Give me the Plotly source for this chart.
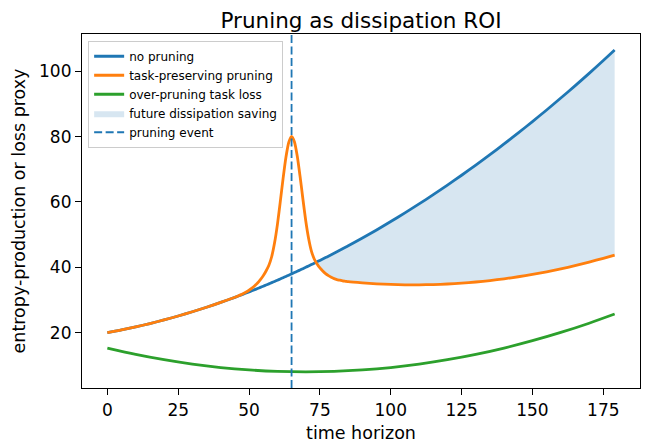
import plotly.graph_objects as go

# ---- data ----
t_main = [0, 5, 10, 15, 20, 25, 30, 35, 40, 45,
          46, 47, 48, 49, 50, 51, 52, 53, 54, 55, 56, 57, 58, 59, 60,
          61, 62, 63, 64, 65, 66, 67, 68, 69, 70, 71, 72, 73, 74, 75,
          76, 77, 78, 79, 80, 81, 82, 83, 84, 85,
          90, 95, 100, 105, 110, 115, 120, 125, 130, 135, 140, 145,
          150, 155, 160, 165, 170, 175, 179]

no_pruning = [20.00, 20.84, 21.77, 22.79, 23.90, 25.11, 26.40, 27.78, 29.26, 30.82,
              31.14, 31.47, 31.80, 32.14, 32.48, 32.82, 33.16, 33.51, 33.86, 34.22,
              34.58, 34.94, 35.31, 35.68, 36.06, 36.43, 36.82, 37.20, 37.59, 37.98,
              38.38, 38.78, 39.18, 39.59, 40.00, 40.41, 40.83, 41.25, 41.68, 42.11,
              42.54, 42.97, 43.41, 43.86, 44.30, 44.75, 45.21, 45.67, 46.13, 46.59,
              48.97, 51.44, 54.00, 56.65, 59.39, 62.22, 65.14, 68.16, 71.26, 74.45,
              77.74, 81.11, 84.58, 88.13, 91.78, 95.51, 99.34, 103.26, 106.45]

task_preserving = [20.00, 20.84, 21.77, 22.79, 23.90, 25.11, 26.40, 27.78, 29.26, 30.82,
                   31.19, 31.57, 32.00, 32.44, 32.98, 33.62, 34.36, 35.21, 36.26, 37.42,
                   38.88, 40.64, 43.31, 47.48, 53.06, 59.93, 67.12, 73.60, 78.19, 80.08,
                   78.43, 74.08, 67.83, 60.89, 54.25, 48.91, 44.98, 42.55, 41.03, 39.81,
                   38.89, 38.07, 37.46, 36.96, 36.55, 36.25, 36.06, 35.87, 35.73, 35.59,
                   35.22, 34.94, 34.75, 34.65, 34.64, 34.72, 34.89, 35.16, 35.51, 35.95,
                   36.49, 37.11, 37.83, 38.63, 39.53, 40.51, 41.59, 42.76, 43.75]

t_green = [0, 10, 20, 30, 40, 50, 60, 70, 80, 90, 100, 110, 120, 130, 140, 150, 160, 170, 179]
over_pruning = [15.30, 13.36, 11.73, 10.38, 9.34, 8.60, 8.15, 8.00, 8.15, 8.60, 9.34,
                10.38, 11.73, 13.36, 15.30, 17.54, 20.07, 22.90, 25.70]

pruning_time = 65
x_ticks = [0, 25, 50, 75, 100, 125, 150, 175]
y_ticks = [20, 40, 60, 80, 100]

BLUE = "#1f77b4"
ORANGE = "#ff7f0e"
GREEN = "#2ca02c"
FONT = "DejaVu Sans"

# ---- saving region: after the pruning event where orange < blue ----
i0 = next(i for i, t in enumerate(t_main)
          if t > pruning_time and task_preserving[i] < no_pruning[i])
d_prev = task_preserving[i0 - 1] - no_pruning[i0 - 1]
d_cur = task_preserving[i0] - no_pruning[i0]
f = d_prev / (d_prev - d_cur)
t_c = t_main[i0 - 1] + f * (t_main[i0] - t_main[i0 - 1])
v_c = no_pruning[i0 - 1] + f * (no_pruning[i0] - no_pruning[i0 - 1])
fill_t = [t_c] + t_main[i0:]
fill_top = [v_c] + no_pruning[i0:]
fill_bot = [v_c] + task_preserving[i0:]

fig = go.Figure()

fig.add_trace(go.Scatter(x=fill_t, y=fill_top, mode="lines",
                         line=dict(width=0, shape="spline", smoothing=0.6),
                         showlegend=False, hoverinfo="skip"))
fig.add_trace(go.Scatter(x=fill_t, y=fill_bot, mode="lines",
                         line=dict(width=0, shape="spline", smoothing=0.6),
                         fill="tonexty", fillcolor="rgba(31,119,180,0.18)",
                         name="future dissipation saving", legendrank=4))

fig.add_trace(go.Scatter(x=t_main, y=no_pruning, mode="lines", name="no pruning",
                         line=dict(color=BLUE, width=2.8, shape="spline", smoothing=0.6), legendrank=1))
fig.add_trace(go.Scatter(x=t_main, y=task_preserving, mode="lines", name="task-preserving pruning",
                         line=dict(color=ORANGE, width=2.8, shape="spline", smoothing=0.6), legendrank=2))
fig.add_trace(go.Scatter(x=t_green, y=over_pruning, mode="lines", name="over-pruning task loss",
                         line=dict(color=GREEN, width=2.8, shape="spline", smoothing=0.8), legendrank=3))
fig.add_trace(go.Scatter(x=[None], y=[None], mode="lines", name="pruning event",
                         line=dict(color=BLUE, width=1.8, dash="8px,3.5px"), legendrank=5))

fig.add_vline(x=pruning_time, line=dict(color=BLUE, width=1.8, dash="8px,3.5px"), layer="above")

# matplotlib-like 5% margins
xmin, xmax = min(t_main), max(t_main)
allv = no_pruning + task_preserving + over_pruning
ymin, ymax = min(allv), max(allv)
xpad = 0.05 * (xmax - xmin)
ypad = 0.05 * (ymax - ymin)

axis_common = dict(showline=True, linecolor="black", linewidth=1.2, mirror=True,
                   ticks="outside", ticklen=6, tickwidth=1.2, tickcolor="black",
                   showgrid=False, zeroline=False,
                   tickfont=dict(family=FONT, size=17, color="black"))

fig.update_xaxes(range=[xmin - xpad, xmax + xpad], tickvals=x_ticks,
                 title=dict(text="time horizon", font=dict(family=FONT, size=17.5, color="black"), standoff=10),
                 **axis_common)
fig.update_yaxes(range=[ymin - ypad, ymax + ypad], tickvals=y_ticks,
                 title=dict(text="entropy-production or loss proxy",
                            font=dict(family=FONT, size=17.5, color="black"), standoff=8),
                 **axis_common)

# the page body has an 8px margin: the figure sits at (8, 8) in the window
FIG_W, FIG_H = 641, 435
fig.update_layout(
    width=FIG_W, height=FIG_H,
    margin=dict(l=74, r=9, t=26, b=55, autoexpand=False),
    paper_bgcolor="white", plot_bgcolor="white",
    title=dict(text="Pruning as dissipation ROI", x=0.5, xref="paper", xanchor="center",
               y=1 - 12.5 / FIG_H, yref="container", yanchor="middle",
               font=dict(family=FONT, size=21.5, color="black")),
    legend=dict(x=0.011, y=0.981, xanchor="left", yanchor="top",
                bgcolor="rgba(255,255,255,0.8)", bordercolor="#cccccc", borderwidth=1,
                font=dict(family=FONT, size=12, color="black"),
                traceorder="normal", tracegroupgap=0, itemwidth=30),
    font=dict(family=FONT),
)

fig.write_html("out.html")
